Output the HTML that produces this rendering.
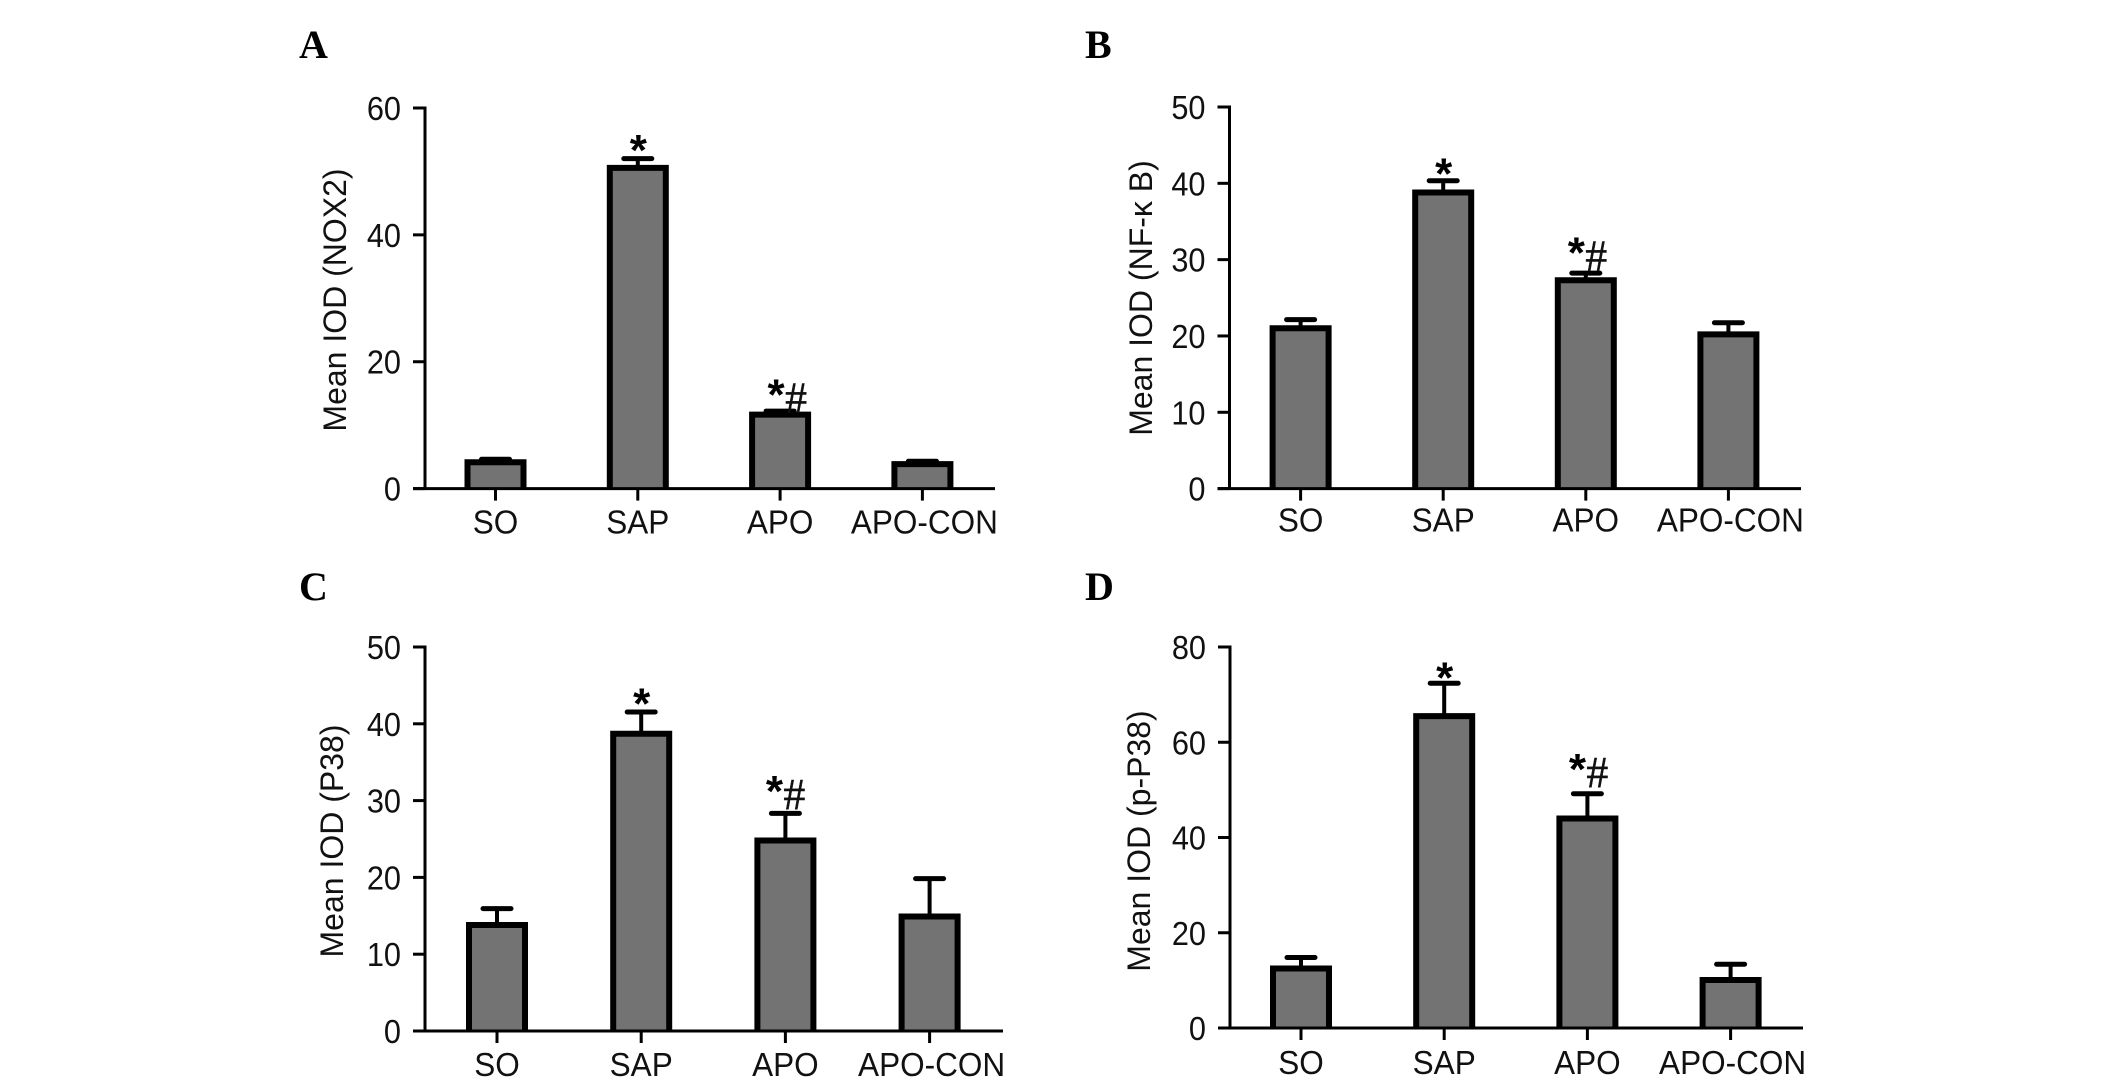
<!DOCTYPE html>
<html lang="en">
<head>
<meta charset="utf-8">
<title>Mean IOD bar charts</title>
<style>
html,body{margin:0;padding:0;background:#fff;width:2126px;height:1085px;overflow:hidden}
svg{display:block}
text{font-family:"Liberation Sans",sans-serif;fill:#111}
.letter{font-family:"Liberation Serif",serif;font-weight:bold;font-size:40px;fill:#000}
.ytitle{font-size:32px;text-anchor:middle}
.tick{font-size:33px;text-anchor:end}
.cat{font-size:33px;text-anchor:middle}
.star{font-size:44px;font-weight:bold;text-anchor:middle;fill:#000}
.hash{font-family:"Liberation Serif",serif;font-size:44px;text-anchor:middle;stroke:#111;stroke-width:0.4}
</style>
</head>
<body>
<svg id="figure" xmlns="http://www.w3.org/2000/svg" width="2126" height="1085" viewBox="0 0 2126 1085">
  <rect width="2126" height="1085" fill="#fff"/>
  <text class="letter" x="299" y="58">A</text>
  <text class="letter" x="1085" y="58">B</text>
  <text class="letter" x="299" y="600">C</text>
  <text class="letter" x="1085" y="600">D</text>
  <text class="ytitle" transform="translate(346,300) rotate(-90)">Mean IOD (NOX2)</text>
  <text class="ytitle" transform="translate(1152,298) rotate(-90)">Mean IOD (NF-κ B)</text>
  <text class="ytitle" transform="translate(343,841) rotate(-90)">Mean IOD (P38)</text>
  <text class="ytitle" transform="translate(1150,841) rotate(-90)">Mean IOD (p-P38)</text>
</svg>
<script>
const categories = ['SO', 'SAP', 'APO', 'APO-CON'];

const nox2Means = [4.4, 50.8, 11.9, 4.1];
const nox2Errors = [4.7, 52.1, 12.3, 4.4];
const nox2Ticks = [0, 20, 40, 60];

const nfkbMeans = [21.2, 39, 27.5, 20.4];
const nfkbErrors = [22.2, 40.4, 28.3, 21.8];
const nfkbTicks = [0, 10, 20, 30, 40, 50];

const p38Means = [14, 38.9, 25, 15.1];
const p38Errors = [16, 41.6, 28.4, 19.9];
const p38Ticks = [0, 10, 20, 30, 40, 50];

const pp38Means = [12.8, 65.8, 44.3, 10.4];
const pp38Errors = [14.9, 72.5, 49.3, 13.5];
const pp38Ticks = [0, 20, 40, 60, 80];

const significance = ['', '*', '*#', ''];

const NS = 'http://www.w3.org/2000/svg';
const figure = document.getElementById('figure');

function make(parent, tag, attrs, content) {
  const node = document.createElementNS(NS, tag);
  for (const key in attrs) node.setAttribute(key, attrs[key]);
  if (content !== undefined) node.textContent = content;
  parent.appendChild(node);
  return node;
}

function condense(node, factor) {
  node.setAttribute('textLength', node.getComputedTextLength() * factor);
  node.setAttribute('lengthAdjust', 'spacingAndGlyphs');
}

function drawPanel(id, means, errors, ticks, layout) {
  const maxTick = ticks[ticks.length - 1];
  const yScale = v => layout.y0 + (layout.yTop - layout.y0) * v / maxTick;
  const xScale = i => layout.x0 + layout.step * i;
  const group = make(figure, 'g', {});
  
  

  categories.forEach((cat, i) => {
    const cx = xScale(i);
    const top = yScale(means[i]) + 1.5;
    const errTop = yScale(errors[i]) + 0.5;
    const stem = make(group, 'line', {x1: cx, x2: cx, y1: errTop, y2: top, stroke: '#000', 'stroke-width': 4});
    
    
    const cap = make(group, 'line', {x1: cx - 14, x2: cx + 14, y1: errTop, y2: errTop, stroke: '#000', 'stroke-width': 5, 'stroke-linecap': 'round'});
    
    
    const bar = make(group, 'path', {d: 'M' + (cx - 28) + ' ' + layout.y0 + ' V' + top + ' H' + (cx + 28) + ' V' + layout.y0, fill: '#737373', stroke: '#000', 'stroke-width': 6});
    
    

    const sig = significance[i];
    if (sig === '*') {
      const star = make(group, 'text', {class: 'star', x: cx + 0.5, y: yScale(errors[i]) + 8 + layout.starDy}, '*');
      
      
    } else if (sig === '*#') {
      const star = make(group, 'text', {class: 'star', x: cx + layout.sigDx - 10, y: yScale(errors[i]) - layout.sigDy - 10 + 21}, '*');
      
      
      const hash = make(group, 'text', {class: 'hash', x: cx + layout.sigDx + 10, y: yScale(errors[i]) - layout.sigDy + 14}, '#');
      
      
    }

    const tick = make(group, 'line', {x1: cx, x2: cx, y1: layout.y0, y2: layout.y0 + 12, stroke: '#000', 'stroke-width': 3});
    
    
    const label = make(group, 'text', {class: 'cat', x: cx + (i === 3 ? 2 : 0), y: layout.y0 + layout.labelDy}, cat);
    
    
    condense(label, 0.955);
  });

  const yAxis = make(group, 'line', {x1: layout.axisX, x2: layout.axisX, y1: layout.yTop - 1.5, y2: layout.y0, stroke: '#000', 'stroke-width': 3});
  
  
  const xAxis = make(group, 'line', {x1: layout.axisX - 12, x2: layout.xEnd, y1: layout.y0, y2: layout.y0, stroke: '#000', 'stroke-width': 3});
  
  

  ticks.forEach(value => {
    const y = yScale(value);
    const mark = make(group, 'line', {x1: layout.axisX - 12, x2: layout.axisX, y1: y, y2: y, stroke: '#000', 'stroke-width': 3});
    
    
    const label = make(group, 'text', {class: 'tick', x: layout.axisX - 24, y: y + 12}, value);
    
    
    condense(label, 0.93);
  });
}

drawPanel('a', nox2Means, nox2Errors, nox2Ticks, {axisX: 425, y0: 488.6, yTop: 108, x0: 495.5, step: 142.3, xEnd: 995, sigDx: 6, sigDy: 12, starDy: -1, labelDy: 45});
drawPanel('b', nfkbMeans, nfkbErrors, nfkbTicks, {axisX: 1229.5, y0: 488.6, yTop: 107, x0: 1300.6, step: 142.6, xEnd: 1801, sigDx: 0.5, sigDy: 16, starDy: 0, labelDy: 43});
drawPanel('c', p38Means, p38Errors, p38Ticks, {axisX: 425, y0: 1031, yTop: 647, x0: 497, step: 144.2, xEnd: 1003, sigDx: -1, sigDy: 18, starDy: -1, labelDy: 45});
drawPanel('d', pp38Means, pp38Errors, pp38Ticks, {axisX: 1230, y0: 1028, yTop: 647, x0: 1301, step: 143.2, xEnd: 1803, sigDx: 0, sigDy: 20, starDy: 2, labelDy: 46});
</script>
</body>
</html>
